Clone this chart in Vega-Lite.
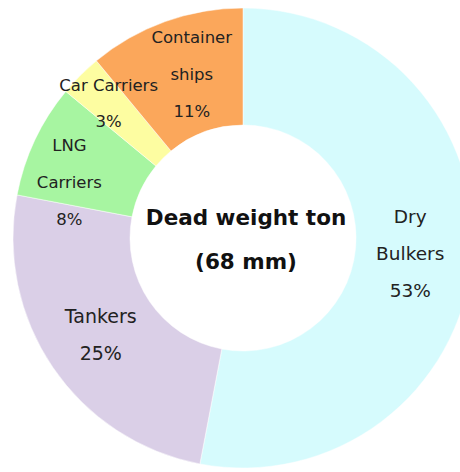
{
  "$schema": "https://vega.github.io/schema/vega-lite/v6.json",
  "autosize": {"type": "fit", "contains": "padding"},
  "width": 460,
  "height": 472,
  "padding": {"left": 26, "top": 4, "right": 0, "bottom": 0},
  "background": "white",
  "view": {"stroke": null},
  "data": {
    "values": [
      {"k": 1, "type": "Dry Bulkers", "share": 53, "lines": ["Dry", "Bulkers", "53%"]},
      {"k": 2, "type": "Tankers", "share": 25, "lines": ["Tankers", "25%"]},
      {"k": 3, "type": "LNG Carriers", "share": 8, "lines": ["LNG", "Carriers", "8%"]},
      {"k": 4, "type": "Car Carriers", "share": 3, "lines": ["Car Carriers", "3%"]},
      {"k": 5, "type": "Container ships", "share": 11, "lines": ["Container", "ships", "11%"]}
    ]
  },
  "encoding": {
    "theta": {"field": "share", "type": "quantitative", "stack": true},
    "order": {"field": "k", "type": "quantitative"}
  },
  "layer": [
    {
      "mark": {"type": "arc", "radius": 230, "radius2": 113, "stroke": "#ffffff", "strokeWidth": 0.5},
      "encoding": {
        "color": {
          "field": "type",
          "type": "nominal",
          "scale": {
            "domain": ["Dry Bulkers", "Tankers", "LNG Carriers", "Car Carriers", "Container ships"],
            "range": ["#d6fbfd", "#dacfe7", "#a7f5a1", "#fdfda1", "#fba75b"]
          },
          "legend": null
        }
      }
    },
    {
      "mark": {"type": "text", "radius": 170, "dx": -2, "dy": -37, "baseline": "middle", "font": "DejaVu Sans", "fontSize": 18.5, "lineHeight": 37, "color": "#222222"},
      "encoding": {"text": {"condition": {"test": "datum.k == 1", "field": "lines"}, "value": ""}}
    },
    {
      "mark": {"type": "text", "radius": 172, "dy": -18, "baseline": "middle", "font": "DejaVu Sans", "fontSize": 19, "lineHeight": 37, "color": "#222222"},
      "encoding": {"text": {"condition": {"test": "datum.k == 2", "field": "lines"}, "value": ""}}
    },
    {
      "mark": {"type": "text", "radius": 172, "dx": 7, "dy": -38, "baseline": "middle", "font": "DejaVu Sans", "fontSize": 16.5, "letterSpacing": -0.5, "lineHeight": 37, "color": "#222222"},
      "encoding": {"text": {"condition": {"test": "datum.k == 5", "field": "lines"}, "value": ""}}
    },
    {
      "mark": {"type": "text", "radius": 190, "dy": -18, "baseline": "middle", "font": "DejaVu Sans", "fontSize": 16.5, "letterSpacing": -0.9, "lineHeight": 36, "color": "#222222"},
      "encoding": {"text": {"condition": {"test": "datum.k == 4", "field": "lines"}, "value": ""}}
    },
    {
      "mark": {"type": "text", "radius": 172, "dx": -18, "dy": -19, "baseline": "middle", "font": "DejaVu Sans", "fontSize": 16.5, "letterSpacing": -0.8, "lineHeight": 37, "color": "#222222"},
      "encoding": {"text": {"condition": {"test": "datum.k == 3", "field": "lines"}, "value": ""}}
    },
    {
      "data": {"values": [{"title": ["Dead weight ton", "(68 mm)"]}]},
      "mark": {"type": "text", "dx": 3, "dy": -19, "baseline": "middle", "font": "DejaVu Sans", "fontWeight": "bold", "fontSize": 21.5, "lineHeight": 44, "color": "#111111"},
      "encoding": {"text": {"field": "title"}, "theta": null, "order": null}
    }
  ]
}
